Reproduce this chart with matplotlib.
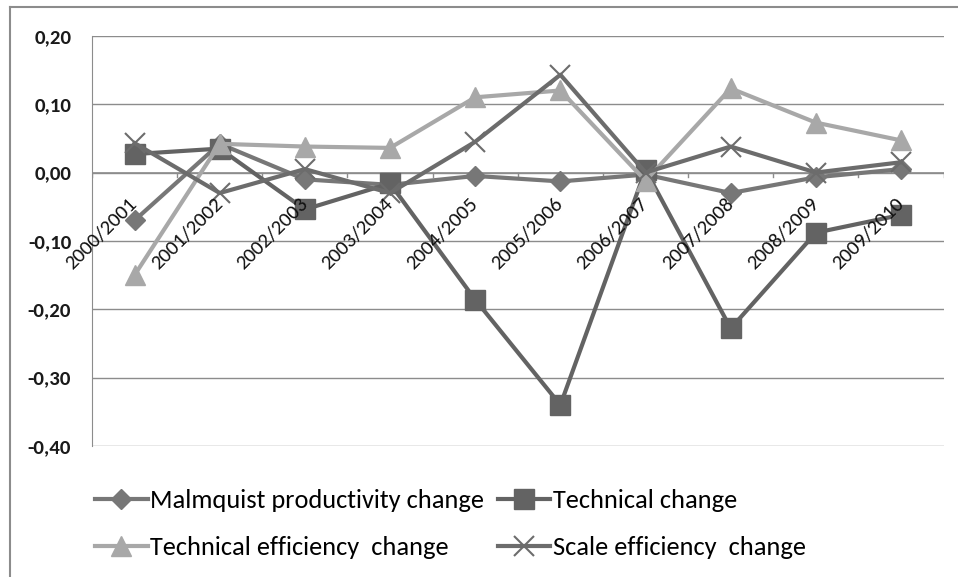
import matplotlib.pyplot as plt
from matplotlib.lines import Line2D
from matplotlib.ticker import FuncFormatter

periods = ['2000/2001', '2001/2002', '2002/2003', '2003/2004', '2004/2005',
           '2005/2006', '2006/2007', '2007/2008', '2008/2009', '2009/2010']
malmquist = [-0.070, 0.042, -0.010, -0.018, -0.005, -0.013, -0.003, -0.030, -0.007, 0.005]
technical = [0.027, 0.035, -0.054, -0.016, -0.186, -0.340, 0.004, -0.228, -0.088, -0.062]
tech_eff = [-0.150, 0.042, 0.038, 0.036, 0.110, 0.120, -0.012, 0.123, 0.073, 0.047]
scale_eff = [0.043, -0.030, 0.005, -0.030, 0.045, 0.143, 0.000, 0.038, 0.000, 0.015]

plt.rcParams['font.family'] = ['Carlito', 'DejaVu Sans']

fig = plt.figure(figsize=(9.58, 5.77), dpi=100)
ax = fig.add_axes([0.096, 0.227, 0.889, 0.711])

x = list(range(len(periods)))
l1, = ax.plot(x, malmquist, color='#777777', lw=3, marker='D', ms=10, label='Malmquist productivity change', zorder=3)
l2, = ax.plot(x, technical, color='#636363', lw=3, marker='s', ms=14, label='Technical change', zorder=3)
l3, = ax.plot(x, tech_eff, color='#a8a8a8', lw=3, marker='^', ms=14, label='Technical efficiency  change', zorder=3)
l4, = ax.plot(x, scale_eff, color='#6c6c6c', lw=3, marker='x', ms=14, mew=1.5, label='Scale efficiency  change', zorder=3)

ax.set_xlim(-0.5, len(periods) - 0.5)
ax.set_ylim(-0.40, 0.20)
ax.set_yticks([0.20, 0.10, 0.00, -0.10, -0.20, -0.30, -0.40])
ax.yaxis.set_major_formatter(FuncFormatter(lambda v, p: ('%.2f' % v).replace('.', ',').replace('-0,00', '0,00')))
ax.tick_params(axis='y', length=0, labelsize=15, pad=15)
for lbl in ax.get_yticklabels():
    lbl.set_fontweight('bold')
    lbl.set_color('#1a1a1a')
ax.grid(axis='y', color='#8c8c8c', lw=1)
ax.set_axisbelow(True)

for s in ['top', 'right', 'bottom']:
    ax.spines[s].set_visible(False)
ax.spines['left'].set_color('#8c8c8c')

# category axis at zero, ticks at category boundaries
ax.axhline(0, color='#8c8c8c', lw=1.2, zorder=1)
for b in range(len(periods) + 1):
    ax.plot([b - 0.5, b - 0.5], [0, -0.006], color='#8c8c8c', lw=1, zorder=1)
ax.set_xticks([])
for i, p in enumerate(periods):
    ax.annotate(p, xy=(i, 0), xytext=(-4.5, -16), textcoords='offset points',
                rotation=45, ha='right', va='top', fontsize=15, color='#111111',
                rotation_mode='anchor')

leg = fig.legend([l1, l3, l2, l4], [l.get_label() for l in [l1, l3, l2, l4]],
                 loc='upper left', bbox_to_anchor=(95 / 958, 1 - 489 / 577), ncol=2, frameon=False,
                 fontsize=19, handlelength=2.0, handletextpad=0.1, borderpad=0, borderaxespad=0,
                 columnspacing=0.5, labelspacing=0.9)

# outer chart border
fig.add_artist(Line2D([10 / 958, 10 / 958], [0, 1 - 7 / 577], color='#8c8c8c', lw=1.5))
fig.add_artist(Line2D([10 / 958, 1], [1 - 7 / 577, 1 - 7 / 577], color='#8c8c8c', lw=1.5))

fig.savefig('out.png', dpi=100)
